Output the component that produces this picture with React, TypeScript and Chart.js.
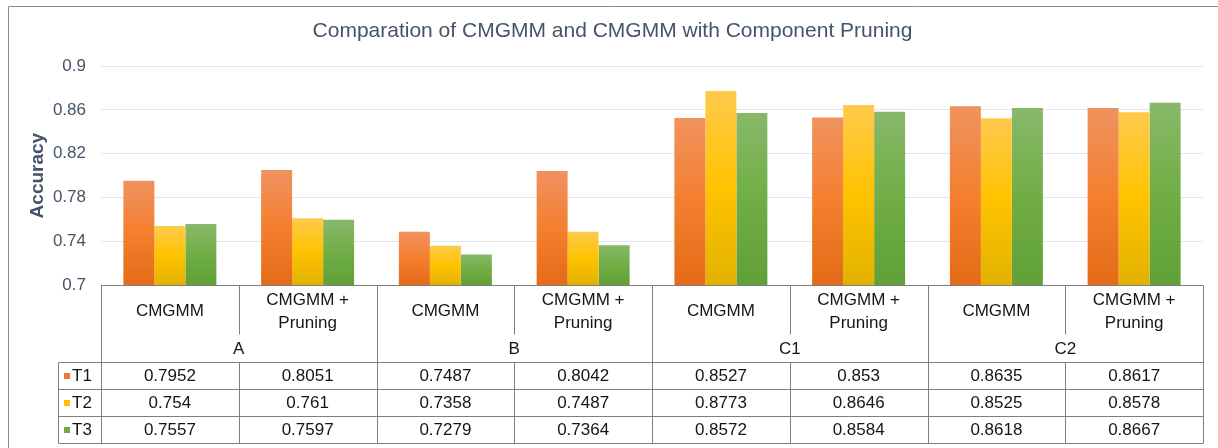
import React, { useEffect, useRef } from 'react';
import { Chart, registerables } from 'chart.js';

Chart.register(...registerables);

// ---------- data ----------
const categoryLabels: string[][] = [
  ['CMGMM'], ['CMGMM +', 'Pruning'],
  ['CMGMM'], ['CMGMM +', 'Pruning'],
  ['CMGMM'], ['CMGMM +', 'Pruning'],
  ['CMGMM'], ['CMGMM +', 'Pruning'],
];
const groupLabels = ['A', 'B', 'C1', 'C2'];
const seriesNames = ['T1', 'T2', 'T3'];
const t1 = [0.7952, 0.8051, 0.7487, 0.8042, 0.8527, 0.853, 0.8635, 0.8617];
const t2 = [0.754, 0.761, 0.7358, 0.7487, 0.8773, 0.8646, 0.8525, 0.8578];
const t3 = [0.7557, 0.7597, 0.7279, 0.7364, 0.8572, 0.8584, 0.8618, 0.8667];
const yTicks = [0.7, 0.74, 0.78, 0.82, 0.86, 0.9];
const yTickLabels = ['0.7', '0.74', '0.78', '0.82', '0.86', '0.9'];
const chartTitle = 'Comparation of CMGMM and CMGMM with Component Pruning';
const yTitle = 'Accuracy';

// ---------- styles ----------
const FONT = "'Liberation Sans', Arial, sans-serif";
const AXIS_COLOR = '#44546A';
const TABLE_LINE = '#7F7F7F';
const TEXT_COLOR = '#151515';
const gradientStops = [
  ['#F0925F', '#F47F2F', '#E46B17'],
  ['#FFCA4D', '#FFC300', '#E2B100'],
  ['#88B86A', '#70AE45', '#619F37'],
];
const keyColors = ['#F07A32', '#FFC000', '#6DAA45'];

const makeBg = (si: number) => (ctx: any) => {
  const chart = ctx.chart;
  const ca = chart.chartArea;
  const stops = gradientStops[si];
  if (!ca || ctx.type !== 'data' || !chart.scales.y) return stops[1];
  const ys = chart.scales.y;
  const top = ys.getPixelForValue(ctx.raw);
  const bottom = ys.getPixelForValue(ys.min);
  if (!isFinite(top) || !isFinite(bottom) || bottom - top < 1) return stops[1];
  const g = chart.ctx.createLinearGradient(0, top, 0, bottom);
  g.addColorStop(0, stops[0]);
  g.addColorStop(0.5, stops[1]);
  g.addColorStop(1, stops[2]);
  return g;
};

const tablePlugin = {
  id: 'dataTable',
  afterDraw(chart: any) {
    const { ctx, chartArea: ca } = chart;
    const n = categoryLabels.length;
    const cw = (ca.right - ca.left) / n;
    const y0 = Math.round(ca.bottom) + 0.5;
    const yInner = y0 + 49;
    const yHead = y0 + 77;
    const rowH = 27;
    const rowsY = [0, 1, 2, 3].map((k) => yHead + k * rowH);
    const legendLeft = 58.5;
    const right = Math.round(ca.right) + 0.5;
    const xEdge = (i: number) => Math.round(ca.left + i * cw) + 0.5;

    ctx.save();
    // outer frame
    ctx.strokeStyle = '#8A8A8A';
    ctx.lineWidth = 1;
    ctx.beginPath();
    ctx.moveTo(8.5, 448);
    ctx.lineTo(8.5, 6.5);
    ctx.lineTo(1218, 6.5);
    ctx.stroke();

    // table lines
    ctx.strokeStyle = TABLE_LINE;
    ctx.beginPath();
    ctx.moveTo(xEdge(0), y0);
    ctx.lineTo(right, y0);
    rowsY.forEach((y) => {
      ctx.moveTo(legendLeft, y);
      ctx.lineTo(right, y);
    });
    for (let i = 0; i <= n; i++) {
      const x = i === n ? right : xEdge(i);
      if (i % 2 === 0) {
        ctx.moveTo(x, y0);
        ctx.lineTo(x, rowsY[3]);
      } else {
        ctx.moveTo(x, y0);
        ctx.lineTo(x, yInner);
        ctx.moveTo(x, yHead);
        ctx.lineTo(x, rowsY[3]);
      }
    }
    ctx.moveTo(legendLeft, yHead);
    ctx.lineTo(legendLeft, rowsY[3]);
    ctx.stroke();

    // texts
    ctx.fillStyle = TEXT_COLOR;
    ctx.font = `17px ${FONT}`;
    ctx.textAlign = 'center';
    ctx.textBaseline = 'middle';
    categoryLabels.forEach((lines, i) => {
      const cx = ca.left + (i + 0.5) * cw;
      if (lines.length === 1) {
        ctx.fillText(lines[0], cx, y0 + 26);
      } else {
        lines.forEach((t, j) => ctx.fillText(t, cx, y0 + 15 + j * 23));
      }
    });
    groupLabels.forEach((g, gi) => {
      ctx.fillText(g, ca.left + (2 * gi + 1) * cw, y0 + 64);
    });
    const series = [t1, t2, t3];
    series.forEach((vals, k) => {
      const cy = rowsY[k] + rowH / 2 + 0.5;
      vals.forEach((v, i) => {
        ctx.fillText(String(v), ca.left + (i + 0.5) * cw, cy);
      });
      ctx.fillStyle = keyColors[k];
      ctx.fillRect(64, Math.round(cy - 3.5), 6, 6);
      ctx.fillStyle = TEXT_COLOR;
      ctx.textAlign = 'left';
      ctx.fillText(seriesNames[k], 72, cy);
      ctx.textAlign = 'center';
    });
    ctx.restore();
  },
};

export default function App() {
  const ref = useRef<HTMLCanvasElement>(null);

  useEffect(() => {
    if (!ref.current) return;
    const chart = new Chart(ref.current, {
      type: 'bar',
      data: {
        labels: categoryLabels.map((l) => l.join(' ')),
        datasets: [t1, t2, t3].map((vals, si) => ({
          label: seriesNames[si],
          data: vals,
          backgroundColor: makeBg(si),
          borderWidth: 0,
          categoryPercentage: 0.675,
          barPercentage: 1,
        })),
      },
      options: {
        responsive: false,
        animation: false,
        devicePixelRatio: 1,
        layout: { padding: { left: 8, right: 1, top: 6, bottom: 0 } },
        plugins: {
          legend: { display: false },
          tooltip: { enabled: false },
          title: {
            display: true,
            text: chartTitle,
            color: AXIS_COLOR,
            font: { family: FONT, size: 21, weight: 'normal' },
            padding: { top: 13, bottom: 22 },
          },
        },
        scales: {
          x: {
            grid: { display: false },
            border: { display: false },
            ticks: { display: false },
            afterFit: (s: any) => {
              s.height = 163;
            },
          },
          y: {
            min: 0.7,
            max: 0.9,
            afterBuildTicks: (s: any) => {
              s.ticks = yTicks.map((v) => ({ value: v }));
            },
            ticks: {
              callback: (_v: any, i: number) => yTickLabels[i],
              color: AXIS_COLOR,
              font: { family: FONT, size: 17 },
              padding: 15,
            },
            grid: { color: '#E1E5EB', drawTicks: false, lineWidth: 1 },
            border: { display: false },
            title: {
              display: true,
              text: yTitle,
              color: AXIS_COLOR,
              font: { family: FONT, size: 19, weight: 'bold' },
              padding: { top: 18, bottom: 0 },
            },
            afterFit: (s: any) => {
              s.width = 93;
            },
          },
          yR: {
            position: 'right',
            display: true,
            grid: { display: false },
            border: { display: false },
            ticks: { display: false },
            afterFit: (s: any) => {
              s.width = 14;
            },
          },
        },
      } as any,
      plugins: [tablePlugin],
    });
    return () => chart.destroy();
  }, []);

  return (
    <div style={{ position: 'fixed', left: 0, top: 0, width: 1218, height: 448, background: '#fff' }}>
      <canvas ref={ref} width={1218} height={448} style={{ display: 'block', width: 1218, height: 448 }} />
    </div>
  );
}
